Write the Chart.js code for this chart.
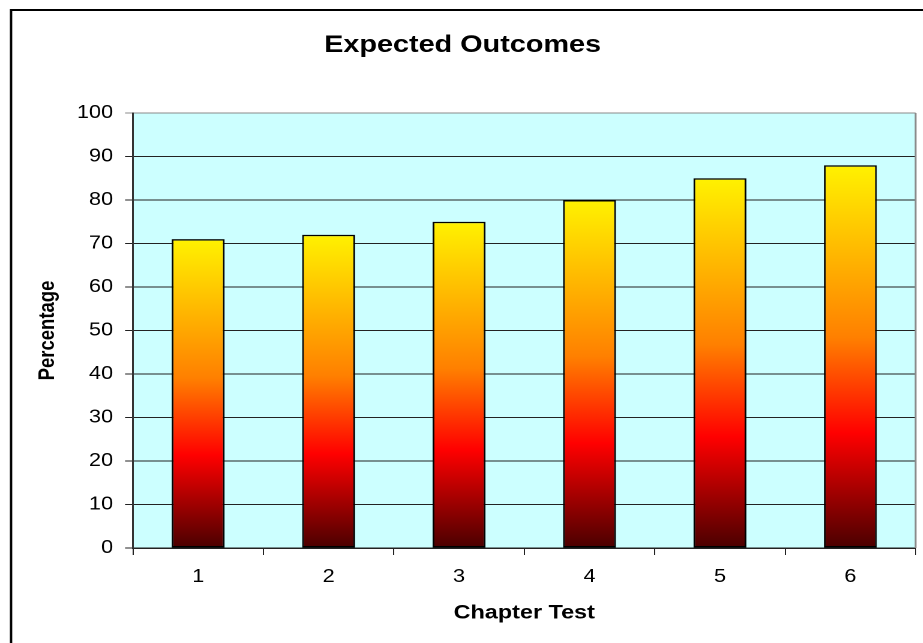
<!DOCTYPE html>
<html>
<head>
<meta charset="utf-8">
<script src="https://cdn.jsdelivr.net/npm/chart.js@4"></script>
<style>
  html, body { margin: 0; padding: 0; background: #fff; overflow: hidden; }
  #wrap { width: 923px; height: 643px; overflow: hidden; }
  #c { transform: scaleX(1.2); transform-origin: 0 0; }
</style>
</head>
<body>
<div id="wrap"><canvas id="c" width="769" height="643"></canvas></div>
<script>
// Chapter tests and expected percentage for each
const chapters = ['1', '2', '3', '4', '5', '6'];
const expected = [71, 72, 75, 80, 85, 88];
const yTicks = [0, 10, 20, 30, 40, 50, 60, 70, 80, 90, 100];

const FONT = "'Liberation Sans', Arial, sans-serif";

// Per-bar vertical gradient: dark red at the base through red and orange to yellow at the top
function barGradient(context) {
  const chart = context.chart;
  if (!chart.chartArea) return '#ff8000';
  const y = chart.scales.y;
  const top = y.getPixelForValue(expected[context.dataIndex]);
  const base = y.getPixelForValue(0);
  const g = chart.ctx.createLinearGradient(0, base, 0, top);
  g.addColorStop(0, '#4a0000');
  g.addColorStop(0.30, '#ff0000');
  g.addColorStop(0.55, '#ff8000');
  g.addColorStop(1, '#fff200');
  return g;
}

// Plot background, right frame edge and the outer chart border
const frame = {
  id: 'frame',
  beforeDraw(chart) {
    const { ctx, chartArea: a } = chart;
    ctx.save();
    ctx.fillStyle = '#ccffff';
    ctx.fillRect(a.left, a.top, a.right - a.left, a.bottom - a.top);
    ctx.restore();
  },
  afterDraw(chart) {
    const { ctx, chartArea: a } = chart;
    ctx.save();
    ctx.strokeStyle = '#8a8a8a';
    ctx.lineWidth = 1.5;
    ctx.beginPath();
    ctx.moveTo(a.right, a.top);
    ctx.lineTo(a.right, a.bottom);
    ctx.stroke();
    ctx.strokeStyle = '#000';
    ctx.lineWidth = 2;
    ctx.beginPath();
    ctx.moveTo(9.2, chart.height + 5);
    ctx.lineTo(9.2, 10);
    ctx.lineTo(chart.width + 5, 10);
    ctx.stroke();
    ctx.restore();
  }
};

new Chart(document.getElementById('c'), {
  type: 'bar',
  data: {
    labels: chapters,
    datasets: [{
      label: 'Expected',
      data: expected,
      backgroundColor: barGradient,
      borderColor: '#000',
      borderWidth: 1.5,
      borderSkipped: false,
      barPercentage: 0.406,
      categoryPercentage: 1
    }]
  },
  options: {
    responsive: false,
    devicePixelRatio: 2,
    animation: false,
    layout: { padding: { left: 8, right: 6, top: 31, bottom: 0 } },
    plugins: {
      legend: { display: false },
      tooltip: { enabled: false },
      title: {
        display: true,
        text: 'Expected Outcomes',
        color: '#000',
        font: { family: FONT, size: 24, weight: 'bold' },
        padding: { top: 0, bottom: 53.2 }
      }
    },
    scales: {
      x: {
        offset: true,
        grid: {
          offset: true,
          drawOnChartArea: false,
          drawTicks: true,
          tickLength: 7,
          color: '#222',
          lineWidth: 1
        },
        border: { display: true, color: '#222', width: 1.5 },
        ticks: {
          color: '#000',
          font: { family: FONT, size: 18 },
          padding: 11
        },
        title: {
          display: true,
          text: 'Chapter Test',
          color: '#000',
          font: { family: FONT, size: 19.5, weight: 'bold' },
          padding: { top: 0, bottom: 18 }
        },
        afterFit(scale) { scale.height = 95; }
      },
      y: {
        min: 0,
        max: 100,
        afterBuildTicks(scale) { scale.ticks = yTicks.map(v => ({ value: v })); },
        grid: {
          drawTicks: true,
          tickLength: 6.6,
          color: (c) => (c.tick && c.tick.value === 100 ? '#8a8a8a' : '#222'),
          lineWidth: 1
        },
        border: { display: true, color: '#333', width: 1.5 },
        ticks: {
          color: '#000',
          font: { family: FONT, size: 18 },
          padding: 10
        },
        title: {
          display: true,
          text: 'Percentage',
          color: '#000',
          font: { family: FONT, size: 18.5, weight: 'bold' },
          padding: { top: 21, bottom: 0 }
        },
        afterFit(scale) { scale.width = 102.8; }
      }
    }
  },
  plugins: [frame]
});
</script>
</body>
</html>
